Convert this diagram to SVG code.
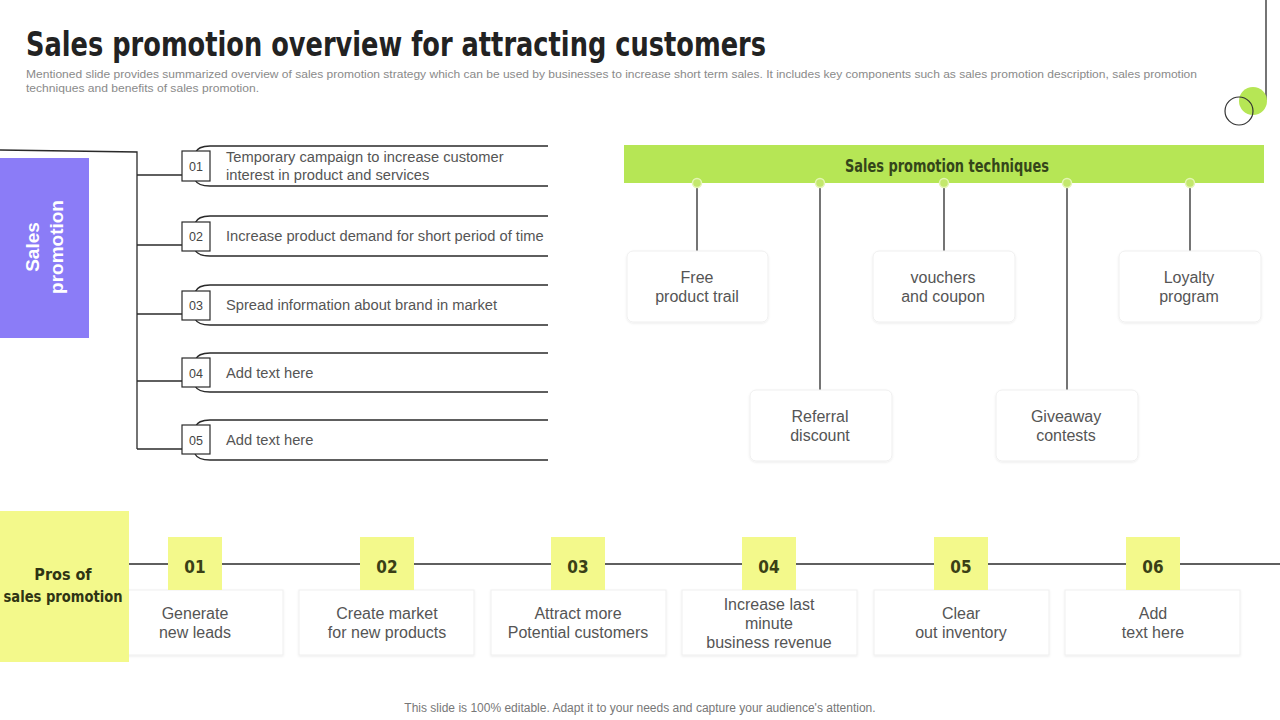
<svg xmlns="http://www.w3.org/2000/svg" width="1280" height="720" viewBox="0 0 1280 720">
<defs>
<filter id="sh" x="-10%" y="-10%" width="120%" height="130%">
<feDropShadow dx="0" dy="1" stdDeviation="1.2" flood-color="#000" flood-opacity="0.08"/>
</filter>
</defs>
<style>
.title{font-family:"DejaVu Sans Condensed","DejaVu Sans",sans-serif;font-weight:bold;fill:#222;}
.sub{font-family:"Liberation Sans",Arial,sans-serif;font-size:11px;fill:#8a8a8a;}
.cond{font-family:"DejaVu Sans Condensed","DejaVu Sans",sans-serif;font-weight:bold;}
.body{font-family:"Liberation Sans",Arial,sans-serif;font-size:14.7px;fill:#555;}
.box{font-family:"Liberation Sans",Arial,sans-serif;font-size:16px;fill:#555;text-anchor:middle;}
.num{font-family:"Liberation Sans",Arial,sans-serif;font-size:12.5px;fill:#444;text-anchor:middle;}
.ln{stroke:#2a2a2a;stroke-width:1.3;fill:none;}
.card{fill:#fff;stroke:#efefef;stroke-width:1;filter:url(#sh);}
.nbox{fill:#fff;stroke:#2a2a2a;stroke-width:1.2;}
.yel{fill:#f3f98b;}
.dot{fill:#c3e86c;stroke:#e4f5b5;stroke-width:1.5;}
.ynum{font-family:"DejaVu Sans Condensed","DejaVu Sans",sans-serif;font-weight:bold;font-size:17px;fill:#3a3f16;text-anchor:middle;}
</style>
<rect width="1280" height="720" fill="#fff"/>

<g id="header">
<text class="title" x="26" y="56" font-size="33" textLength="740" lengthAdjust="spacingAndGlyphs">Sales promotion overview for attracting customers</text>
<text class="sub" x="26" y="78" textLength="1171" lengthAdjust="spacingAndGlyphs">Mentioned slide provides summarized overview of sales promotion strategy which can be used by businesses to increase short term sales. It includes key components such as sales promotion description, sales promotion</text>
<text class="sub" x="26" y="92" textLength="233" lengthAdjust="spacingAndGlyphs">techniques and benefits of sales promotion.</text>
</g>

<g id="corner-deco">
<line x1="1266" y1="0" x2="1266" y2="100" class="ln"/>
<circle cx="1253" cy="101" r="14" fill="#b6e655"/>
<circle cx="1239" cy="111" r="14" fill="none" stroke="#333" stroke-width="1.2"/>
</g>

<g id="connectors">
<path class="ln" d="M0,150 L137,152 L137,449"/>
<line class="ln" x1="137" y1="175" x2="182" y2="175"/>
<line class="ln" x1="137" y1="245" x2="182" y2="245"/>
<line class="ln" x1="137" y1="314" x2="182" y2="314"/>
<line class="ln" x1="137" y1="381" x2="182" y2="381"/>
<line class="ln" x1="137" y1="449" x2="182" y2="449"/>
<line class="ln" x1="697" y1="183" x2="697" y2="251"/>
<line class="ln" x1="820" y1="183" x2="820" y2="390"/>
<line class="ln" x1="944" y1="183" x2="944" y2="251"/>
<line class="ln" x1="1067" y1="183" x2="1067" y2="390"/>
<line class="ln" x1="1190" y1="183" x2="1190" y2="251"/>
<line class="ln" x1="129" y1="564" x2="1280" y2="564"/>
</g>

<g id="sales-promotion">
<rect x="0" y="158" width="89" height="180" fill="#8b7cf7"/>
<g transform="translate(44,247) rotate(-90)" font-family="Liberation Sans,Arial,sans-serif" font-weight="bold" font-size="19" fill="#fff" text-anchor="middle">
<text x="0" y="-5">Sales</text>
<text x="0" y="19">promotion</text>
</g>
</g>

<g id="item-01">
<path class="ln" d="M548,146 H210 Q198,146 195,153 M195,180 Q198,186 210,186 H548"/>
<rect class="nbox" x="182" y="151" width="28" height="30"/>
<text class="num" x="196" y="171">01</text>
<text class="body" x="226" y="162">Temporary campaign to increase customer</text>
<text class="body" x="226" y="180">interest in product and services</text>
</g>
<g id="item-02">
<path class="ln" d="M548,216 H210 Q198,216 195,223 M195,250 Q198,256 210,256 H548"/>
<rect class="nbox" x="182" y="222" width="28" height="29"/>
<text class="num" x="196" y="241">02</text>
<text class="body" x="226" y="241">Increase product demand for short period of time</text>
</g>
<g id="item-03">
<path class="ln" d="M548,285 H210 Q198,285 195,292 M195,319 Q198,325 210,325 H548"/>
<rect class="nbox" x="182" y="291" width="28" height="29"/>
<text class="num" x="196" y="310">03</text>
<text class="body" x="226" y="310">Spread information about brand in market</text>
</g>
<g id="item-04">
<path class="ln" d="M548,353 H210 Q198,353 195,360 M195,386 Q198,392 210,392 H548"/>
<rect class="nbox" x="182" y="358" width="28" height="29"/>
<text class="num" x="196" y="378">04</text>
<text class="body" x="226" y="378">Add text here</text>
</g>
<g id="item-05">
<path class="ln" d="M548,420 H210 Q198,420 195,427 M195,454 Q198,460 210,460 H548"/>
<rect class="nbox" x="182" y="425" width="28" height="29"/>
<text class="num" x="196" y="445">05</text>
<text class="body" x="226" y="445">Add text here</text>
</g>

<g id="techniques-header">
<rect x="624" y="145" width="640" height="38" fill="#b6e655"/>
<text class="cond" x="947" y="172" font-size="17" fill="#34451a" text-anchor="middle" textLength="204" lengthAdjust="spacingAndGlyphs">Sales promotion techniques</text>
<circle class="dot" cx="697" cy="183" r="4.5"/>
<circle class="dot" cx="820" cy="183" r="4.5"/>
<circle class="dot" cx="944" cy="183" r="4.5"/>
<circle class="dot" cx="1067" cy="183" r="4.5"/>
<circle class="dot" cx="1190" cy="183" r="4.5"/>
</g>

<g id="tech-free">
<rect class="card" x="627" y="251" width="141" height="71" rx="6"/>
<text class="box" x="697" y="283">Free</text>
<text class="box" x="697" y="302">product trail</text>
</g>
<g id="tech-vouchers">
<rect class="card" x="873" y="251" width="142" height="71" rx="6"/>
<text class="box" x="943" y="283">vouchers</text>
<text class="box" x="943" y="302">and coupon</text>
</g>
<g id="tech-loyalty">
<rect class="card" x="1119" y="251" width="142" height="71" rx="6"/>
<text class="box" x="1189" y="283">Loyalty</text>
<text class="box" x="1189" y="302">program</text>
</g>
<g id="tech-referral">
<rect class="card" x="750" y="390" width="142" height="71" rx="6"/>
<text class="box" x="820" y="422">Referral</text>
<text class="box" x="820" y="441">discount</text>
</g>
<g id="tech-giveaway">
<rect class="card" x="996" y="390" width="142" height="71" rx="6"/>
<text class="box" x="1066" y="422">Giveaway</text>
<text class="box" x="1066" y="441">contests</text>
</g>

<g id="pro-01">
<rect class="card" x="108" y="590" width="175" height="65"/>
<rect class="yel" x="168" y="537" width="54" height="53"/>
<text class="ynum" x="195" y="573">01</text>
<text class="box" x="195" y="619">Generate</text>
<text class="box" x="195" y="638">new leads</text>
</g>
<g id="pro-02">
<rect class="card" x="299" y="590" width="175" height="65"/>
<rect class="yel" x="360" y="537" width="54" height="53"/>
<text class="ynum" x="387" y="573">02</text>
<text class="box" x="387" y="619">Create market</text>
<text class="box" x="387" y="638">for new products</text>
</g>
<g id="pro-03">
<rect class="card" x="491" y="590" width="175" height="65"/>
<rect class="yel" x="551" y="537" width="54" height="53"/>
<text class="ynum" x="578" y="573">03</text>
<text class="box" x="578" y="619">Attract more</text>
<text class="box" x="578" y="638">Potential customers</text>
</g>
<g id="pro-04">
<rect class="card" x="682" y="590" width="175" height="65"/>
<rect class="yel" x="742" y="537" width="54" height="53"/>
<text class="ynum" x="769" y="573">04</text>
<text class="box" x="769" y="610">Increase last</text>
<text class="box" x="769" y="629">minute</text>
<text class="box" x="769" y="648">business revenue</text>
</g>
<g id="pro-05">
<rect class="card" x="874" y="590" width="175" height="65"/>
<rect class="yel" x="934" y="537" width="54" height="53"/>
<text class="ynum" x="961" y="573">05</text>
<text class="box" x="961" y="619">Clear</text>
<text class="box" x="961" y="638">out inventory</text>
</g>
<g id="pro-06">
<rect class="card" x="1065" y="590" width="175" height="65"/>
<rect class="yel" x="1126" y="537" width="54" height="53"/>
<text class="ynum" x="1153" y="573">06</text>
<text class="box" x="1153" y="619">Add</text>
<text class="box" x="1153" y="638">text here</text>
</g>

<g id="pros-label">
<rect class="yel" x="0" y="511" width="129" height="151"/>
<text class="cond" x="63" y="580" font-size="16" fill="#2f3414" text-anchor="middle">Pros of</text>
<text class="cond" x="63" y="602" font-size="16" fill="#2f3414" text-anchor="middle" textLength="119" lengthAdjust="spacingAndGlyphs">sales promotion</text>
</g>

<g id="footer">
<text x="640" y="712" font-family="Liberation Sans,Arial,sans-serif" font-size="12" fill="#777" text-anchor="middle">This slide is 100% editable. Adapt it to your needs and capture your audience's attention.</text>
</g>
</svg>
